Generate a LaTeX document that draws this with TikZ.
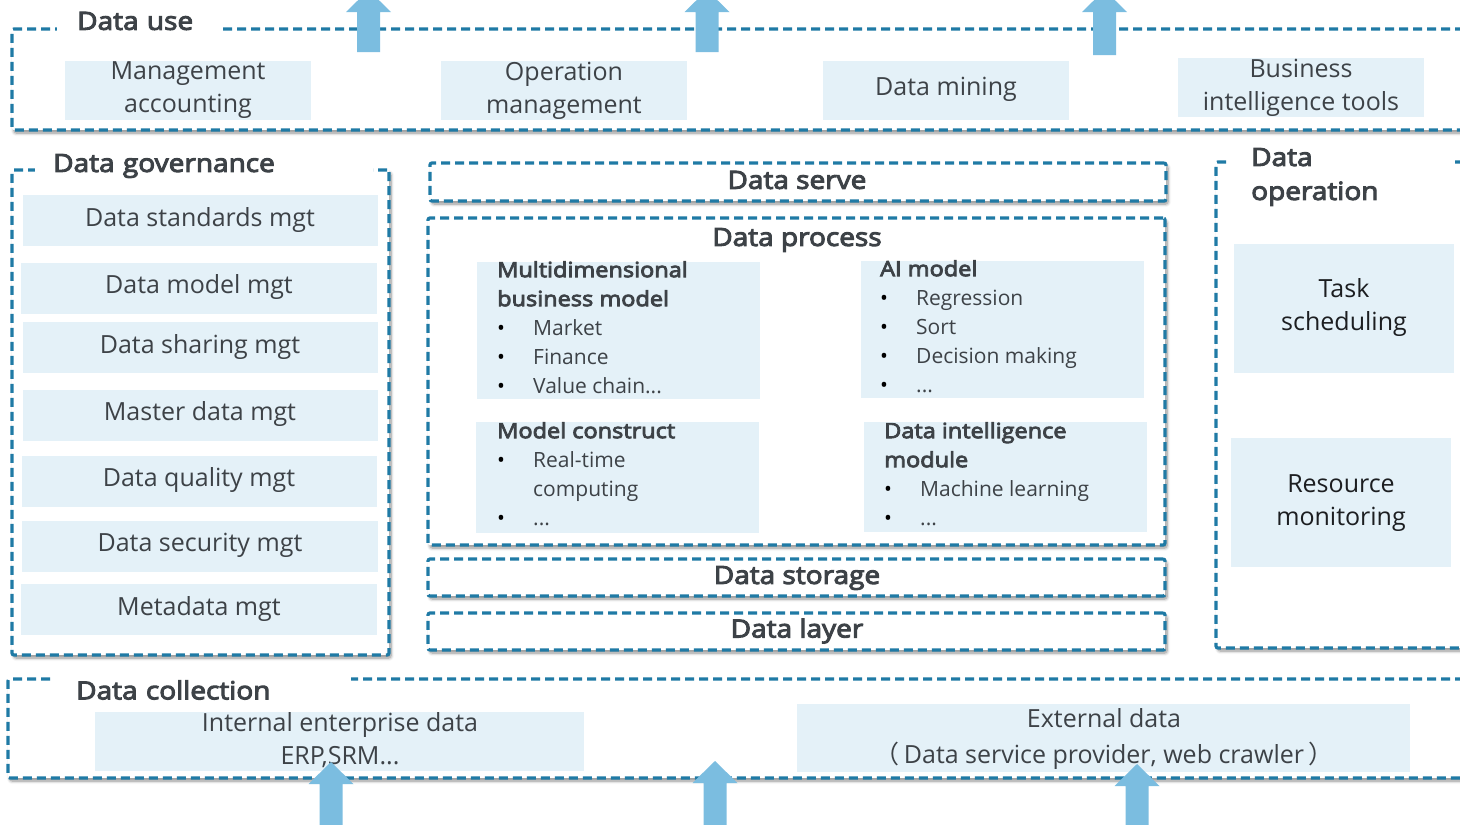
\documentclass[tikz,border=0pt]{standalone}
\usepackage{fontspec}
\setmainfont{Open Sans}
\newfontfamily\headfont{Open Sans}[FakeBold=4, FakeStretch=1.12]
\newfontfamily\cjk{Noto Sans CJK SC}
\usetikzlibrary{fit,shadows.blur}
\definecolor{dashblue}{RGB}{31,122,165}
\definecolor{cellblue}{RGB}{228,241,248}
\definecolor{arrowblue}{RGB}{123,189,224}
\definecolor{ink}{RGB}{61,66,71}
\definecolor{inkdark}{RGB}{28,30,33}

\tikzset{
  frame/.style={draw=dashblue, line width=3.2pt, dash pattern=on 9pt off 5pt,
    fill=white, inner sep=0pt, rounded corners=2pt,
    blur shadow={shadow xshift=2pt, shadow yshift=-3pt, shadow blur radius=3pt,
      shadow blur steps=6, shadow opacity=45}},
  cell/.style={fill=cellblue, inner sep=0pt},
  celltext/.style={text=ink, font=\fontsize{25}{33}\selectfont, align=center, inner sep=0pt},
  darktext/.style={celltext, text=inkdark},
  head/.style={text=ink, font=\headfont\fontsize{25}{34}\selectfont, inner sep=0pt},
  gap/.style={head, fill=white, anchor=west, align=left, inner ysep=5pt},
  listtext/.style={text=ink, font=\fontsize{21}{29}\selectfont, align=left,
    inner sep=0pt, anchor=north west},
}
% bold heading line of a list cell
\newcommand\hd[1]{{\headfont #1}}
% bullet item of a list cell
\newcommand\itm[1]{\makebox[36pt][l]{\textcolor{black}{•}}#1}
% light blue block arrow pointing up: centre x, tip y, head base y, tail y
\newcommand\uparrowshape[4]{%
  \fill[arrowblue] (#1-11.5,#4) -- (#1-11.5,#3) -- (#1-22.5,#3) -- (#1,#2)
    -- (#1+22.5,#3) -- (#1+11.5,#3) -- (#1+11.5,#4) -- cycle;}

\begin{document}
\begin{tikzpicture}[x=1pt, y=-1pt]
\useasboundingbox (0,0) rectangle (1460,825);
\clip (0,0) rectangle (1460,825);

% ---------- layer frames ----------
\node[frame, fit={(12,29)(1480,130)}] (use) {};
\node[frame, fit={(12,170)(389,655)}] (gov) {};
\node[frame, fit={(430,163)(1166,201)}] (serve) {};
\node[frame, fit={(428,218)(1165,545)}] (process) {};
\node[frame, fit={(428,559)(1165,596)}] (storage) {};
\node[frame, fit={(428,613)(1165,650)}] (layer) {};
\node[frame, fit={(1216,162)(1480,648)}] (oper) {};
\node[frame, fit={(8,679)(1480,778)}] (coll) {};

% ---------- frame titles ----------
\node[gap, inner xsep=20pt, text width=125pt] (use-t) at (57,21) {Data use};
\node[gap, inner xsep=18pt, text width=302pt] (gov-t) at (35,166) {Data governance};
\node[gap, inner xsep=21pt, text width=180pt, inner ysep=0pt] (oper-t) at (1230,177) {Data\\operation};
\node[gap, inner xsep=23pt, text width=252pt, inner ysep=7pt] (coll-t) at (53,690) {Data collection};
\node[head] (serve-t) at (797,180) {Data serve};
\node[head] (process-t) at (797,240) {Data process};
\node[head] (storage-t) at (797,578) {Data storage};
\node[head] (layer-t) at (797,631) {Data layer};

% ---------- data use ----------
\node[cell, fit={(65,61)(311,120)}] (ma) {};
\node[cell, fit={(441,61)(687,120)}] (om) {};
\node[cell, fit={(823,61)(1069,120)}] (dm) {};
\node[cell, fit={(1178,58)(1424,117)}] (bi) {};
\node[celltext] (ma-t) at (188,90) {Management\\accounting};
\node[celltext] (om-t) at (564,91) {Operation\\management};
\node[celltext] (dm-t) at (946,89) {Data mining};
\node[celltext] (bi-t) at (1301,88) {Business\\intelligence tools};

% ---------- data governance ----------
\node[cell, fit={(23,195)(378,246)}] (g1) {};
\node[cell, fit={(21,263)(377,314)}] (g2) {};
\node[cell, fit={(23,322)(378,373)}] (g3) {};
\node[cell, fit={(23,390)(378,441)}] (g4) {};
\node[cell, fit={(22,456)(377,507)}] (g5) {};
\node[cell, fit={(22,521)(378,572)}] (g6) {};
\node[cell, fit={(21,584)(377,635)}] (g7) {};
\node[celltext] (g1-t) at (200,220) {Data standards mgt};
\node[celltext] (g2-t) at (199,287) {Data model mgt};
\node[celltext] (g3-t) at (200,347) {Data sharing mgt};
\node[celltext] (g4-t) at (200,414) {Master data mgt};
\node[celltext] (g5-t) at (199,480) {Data quality mgt};
\node[celltext] (g6-t) at (200,545) {Data security mgt};
\node[celltext] (g7-t) at (199,609) {Metadata mgt};

% ---------- data process ----------
\node[cell, fit={(477,262)(760,399)}] (mbm) {};
\node[cell, fit={(861,261)(1144,398)}] (ai) {};
\node[cell, fit={(476,422)(759,533)}] (mc) {};
\node[cell, fit={(864,422)(1147,532)}] (dim) {};
\node[listtext] (mbm-t) at (497,261) {\hd{Multidimensional}\\\hd{business model}\\\itm{Market}\\\itm{Finance}\\\itm{Value chain...}};
\node[listtext] (ai-t) at (880,260) {\hd{AI model}\\\itm{Regression}\\\itm{Sort}\\\itm{Decision making}\\\itm{...}};
\node[listtext] (mc-t) at (497,422) {\hd{Model construct}\\\itm{Real-time}\\\hspace*{36pt}computing\\\itm{...}};
\node[listtext] (dim-t) at (884,422) {\hd{Data intelligence}\\\hd{module}\\\itm{Machine learning}\\\itm{...}};

% ---------- data operation ----------
\node[cell, fit={(1234,244)(1454,373)}] (task) {};
\node[cell, fit={(1231,438)(1451,567)}] (res) {};
\node[darktext] (task-t) at (1344,308) {Task\\scheduling};
\node[darktext] (res-t) at (1341,503) {Resource\\monitoring};

% ---------- data collection ----------
\node[cell, fit={(95,712)(584,771)}] (int) {};
\node[cell, fit={(797,704)(1410,772)}] (ext) {};
\node[celltext] (int-t) at (340,740) {Internal enterprise data\\ERP,SRM...};
\node[celltext, font=\fontsize{25}{36}\selectfont] (ext-t) at (1104,739) {External data\\{\cjk （}\,Data service provider, web crawler\,{\cjk ）}};

% ---------- flow arrows ----------
\uparrowshape{368.5}{-10}{12}{52}
\uparrowshape{707}{-10}{12}{52}
\uparrowshape{1104.5}{-10}{12}{55}
\uparrowshape{331}{762}{784}{830}
\uparrowshape{715}{761}{783}{830}
\uparrowshape{1137}{764}{786}{830}
\end{tikzpicture}
\end{document}
